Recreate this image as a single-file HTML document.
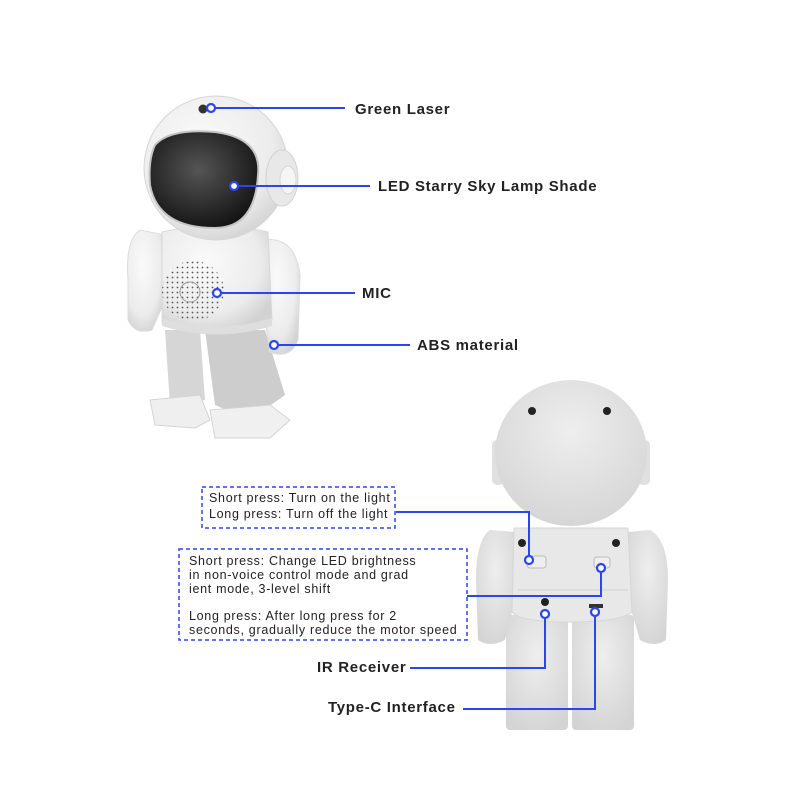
<!DOCTYPE html>
<html><head><meta charset="utf-8"><style>
html,body{margin:0;padding:0;background:#fff;}
svg{display:block}
.l{font-family:"Liberation Sans",sans-serif;font-weight:bold;font-size:15px;fill:#222;letter-spacing:0.7px}
.s{font-family:"Liberation Sans",sans-serif;font-size:12.5px;fill:#222;letter-spacing:0.7px}
</style></head><body>
<svg width="800" height="800" viewBox="0 0 800 800" xmlns="http://www.w3.org/2000/svg">
<defs>
<radialGradient id="wh" cx="40%" cy="35%" r="70%"><stop offset="0" stop-color="#fafafa"/><stop offset="0.7" stop-color="#ececec"/><stop offset="1" stop-color="#d2d2d2"/></radialGradient>
<radialGradient id="vis" cx="45%" cy="40%" r="65%"><stop offset="0" stop-color="#555"/><stop offset="1" stop-color="#111"/></radialGradient>
<radialGradient id="gr" cx="50%" cy="35%" r="70%"><stop offset="0" stop-color="#eeeeee"/><stop offset="1" stop-color="#d4d4d4"/></radialGradient>
<pattern id="dots" width="5" height="5" patternUnits="userSpaceOnUse"><circle cx="2.5" cy="2.5" r="0.9" fill="#555"/></pattern>
</defs>

<g>
<path d="M165 330 L200 330 L205 400 L170 405 Z" fill="#d6d6d6"/>
<path d="M205 330 L265 330 L285 395 L250 420 L215 405 Z" fill="#cdcdcd"/>
<path d="M150 400 L200 395 L210 420 L195 428 L155 425 Z" fill="#efefef" stroke="#d4d4d4"/>
<path d="M210 410 L270 405 L290 420 L270 438 L215 438 Z" fill="#f0f0f0" stroke="#d4d4d4"/>
<path d="M140 230 Q125 240 128 280 L128 320 Q135 335 152 330 L165 300 L165 235 Z" fill="url(#wh)" stroke="#dcdcdc"/>
<path d="M262 240 Q295 235 300 275 L298 340 Q290 360 270 352 L262 300 Z" fill="url(#wh)" stroke="#dcdcdc"/>
<path d="M162 232 Q215 220 268 232 L272 320 Q215 340 162 322 Z" fill="url(#wh)" stroke="#d8d8d8"/>
<path d="M162 318 Q215 335 272 318 L272 326 Q215 343 162 326 Z" fill="#dedede"/>
<ellipse cx="193" cy="291" rx="31" ry="30" fill="url(#dots)"/>
<circle cx="190" cy="292" r="10" fill="none" stroke="#999"/>
<circle cx="216" cy="168" r="72" fill="url(#wh)" stroke="#d6d6d6"/>
<ellipse cx="282" cy="178" rx="16" ry="28" fill="#e8e8e8" stroke="#d2d2d2"/>
<ellipse cx="288" cy="180" rx="8" ry="14" fill="#f5f5f5" stroke="#d6d6d6"/>
<path d="M155 145 Q170 128 215 132 Q262 138 258 175 Q255 228 215 228 Q158 228 150 185 Q148 160 155 145 Z" fill="url(#vis)" stroke="#c4c4c4" stroke-width="2"/>
<circle cx="203" cy="109" r="4.5" fill="#333"/>
</g>

<g>
<rect x="506" y="615" width="62" height="115" rx="4" fill="url(#gr)"/>
<rect x="572" y="615" width="62" height="115" rx="4" fill="url(#gr)"/>
<path d="M490 530 Q476 540 476 580 L478 640 Q490 648 505 640 L515 600 L515 532 Z" fill="url(#gr)"/>
<path d="M650 530 Q668 540 668 580 L666 640 Q654 648 640 640 L628 600 L628 532 Z" fill="url(#gr)"/>
<path d="M514 528 L628 528 L632 612 Q620 622 570 622 Q520 622 512 612 Z" fill="#e8e8e8" stroke="#d6d6d6"/>
<line x1="518" y1="590" x2="628" y2="590" stroke="#d2d2d2"/>
<rect x="492" y="440" width="12" height="45" rx="5" fill="#e0e0e0"/>
<rect x="638" y="440" width="12" height="45" rx="5" fill="#e0e0e0"/>
<ellipse cx="571" cy="453" rx="76" ry="73" fill="url(#gr)"/>
<circle cx="532" cy="411" r="4" fill="#222"/>
<circle cx="607" cy="411" r="4" fill="#222"/>
<circle cx="522" cy="543" r="4" fill="#222"/>
<circle cx="616" cy="543" r="4" fill="#222"/>
<rect x="527" y="556" width="19" height="12" rx="3" fill="#eee" stroke="#bbb"/>
<rect x="594" y="557" width="16" height="11" rx="3" fill="#eee" stroke="#bbb"/>
<circle cx="545" cy="602" r="4" fill="#222"/>
<rect x="589" y="604" width="14" height="4" fill="#333"/>
</g>

<g stroke="#2b45f0" stroke-width="2" fill="none">
<line x1="215" y1="108" x2="345" y2="108"/>
<line x1="238" y1="186" x2="370" y2="186"/>
<line x1="221" y1="293" x2="355" y2="293"/>
<line x1="278" y1="345" x2="410" y2="345"/>
<polyline points="396,512 529,512 529,556"/>
<polyline points="467,596 601,596 601,572"/>
<polyline points="410,668 545,668 545,618"/>
<polyline points="463,709 595,709 595,616"/>
</g>
<g stroke="#2b45f0" stroke-width="2.2" fill="#fff">
<circle cx="211" cy="108" r="4"/>
<circle cx="234" cy="186" r="4"/>
<circle cx="217" cy="293" r="4"/>
<circle cx="274" cy="345" r="4"/>
<circle cx="529" cy="560" r="4"/>
<circle cx="601" cy="568" r="4"/>
<circle cx="545" cy="614" r="4"/>
<circle cx="595" cy="612" r="4"/>
</g>
<g stroke="#2b45f0" stroke-width="1.5" fill="none" stroke-dasharray="4,3">
<rect x="202" y="487" width="193" height="41"/>
<rect x="179" y="549" width="288" height="91"/>
</g>

<text class="l" x="355" y="114">Green Laser</text>
<text class="l" x="378" y="191">LED Starry Sky Lamp Shade</text>
<text class="l" x="362" y="298">MIC</text>
<text class="l" x="417" y="350">ABS material</text>
<text class="l" x="317" y="672">IR Receiver</text>
<text class="l" x="328" y="712">Type-C Interface</text>

<text class="s" x="209" y="502">Short press: Turn on the light</text>
<text class="s" x="209" y="518">Long press: Turn off the light</text>
<text class="s" x="189" y="565">Short press: Change LED brightness</text>
<text class="s" x="189" y="579">in non-voice control mode and grad</text>
<text class="s" x="189" y="593">ient mode, 3-level shift</text>
<text class="s" x="189" y="620">Long press: After long press for 2</text>
<text class="s" x="189" y="634">seconds, gradually reduce the motor speed</text>
</svg>
</body></html>
